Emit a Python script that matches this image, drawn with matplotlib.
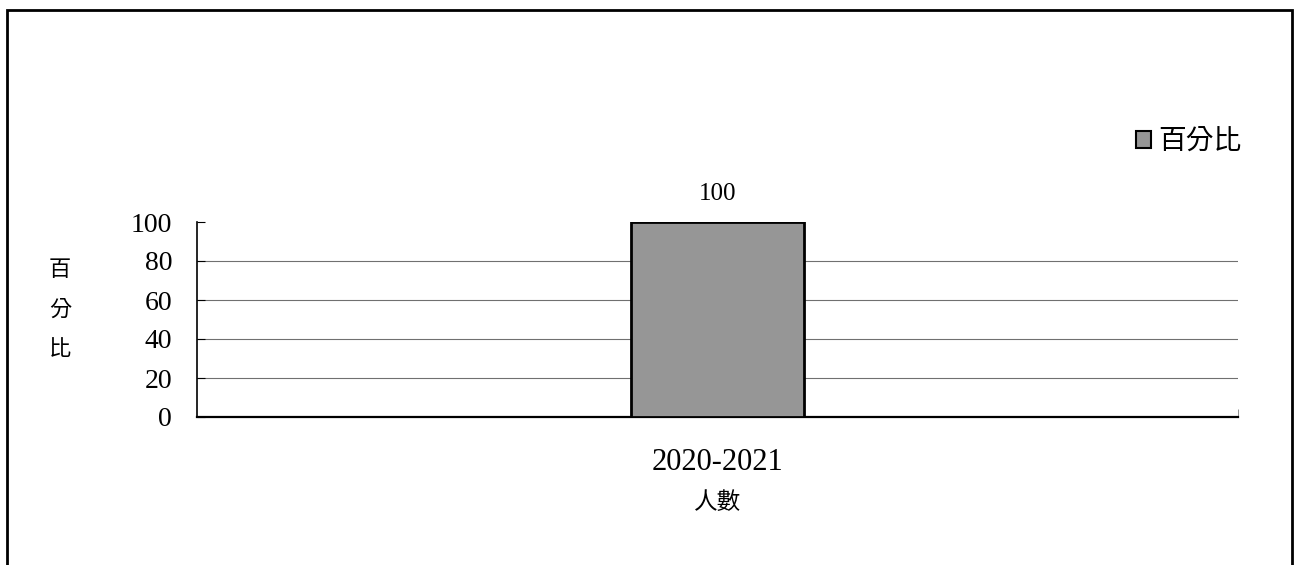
import matplotlib
matplotlib.use("Agg")
import matplotlib.pyplot as plt
from matplotlib.patches import Rectangle

# chart data
categories = ["2020-2021"]
percent = [100]
series_name = "百分比"
y_ticks = [0, 20, 40, 60, 80, 100]
x_title = "人數"
y_title = "百\n分\n比"

plt.rcParams['font.family'] = ['Liberation Serif', 'Noto Sans CJK TC', 'DejaVu Sans']

fig = plt.figure(figsize=(12.95, 5.65), dpi=100)
ax = fig.add_axes([197 / 1295, 1 - 417 / 565, (1238 - 197) / 1295, (417 - 222) / 565])

x = list(range(len(categories)))
bars = ax.bar(x, percent, width=0.167, color="#969696", edgecolor="black",
              linewidth=2.0, label=series_name, zorder=3)

# value labels above the bar
for xi, v in zip(x, percent):
    ax.annotate(f"{v}", (xi, v), xytext=(0, 12), textcoords="offset points",
                ha="center", va="bottom", fontsize=18)

ax.set_xlim(-0.5, len(categories) - 0.5)
ax.set_ylim(0, 100)
ax.set_yticks(y_ticks)
ax.set_xticks(x)
ax.set_xticklabels(categories, fontsize=22)
ax.tick_params(axis="y", direction="in", length=6, width=0.8, pad=18, labelsize=20)
ax.tick_params(axis="x", length=0, pad=22)
# category boundary tick at the right end
ax.set_xticks([len(categories) - 0.5], minor=True)
ax.tick_params(axis="x", which="minor", direction="in", length=6, color="#808080")

ax.yaxis.grid(True, color="#707070", linewidth=0.8)
ax.get_ygridlines()[-1].set_visible(False)
ax.set_axisbelow(True)

for side in ["top", "right"]:
    ax.spines[side].set_visible(False)
ax.spines["left"].set_linewidth(1.2)
ax.spines["bottom"].set_linewidth(1.6)

ax.set_xlabel(x_title, fontsize=17, labelpad=11)
fig.text(60 / 1295, 1 - 311 / 565, y_title, fontsize=16, ha="center", va="center",
         linespacing=2.3)

leg = fig.legend(handles=[bars], labels=[series_name], loc="center left",
                 bbox_to_anchor=(1136 / 1295, 1 - 143 / 565), frameon=False,
                 fontsize=20, handlelength=0.55, handleheight=0.55, handletextpad=0.25,
                 borderpad=0, borderaxespad=0)
leg.get_patches()[0].set_linewidth(1.5)

# outer chart border (bottom edge is cut off)
fig.patches.append(Rectangle((7 / 1295, -0.05), (1292 - 7) / 1295, 1.05 - 10 / 565,
                             transform=fig.transFigure, fill=False,
                             edgecolor="black", linewidth=2))

fig.savefig("out.png", dpi=100)
